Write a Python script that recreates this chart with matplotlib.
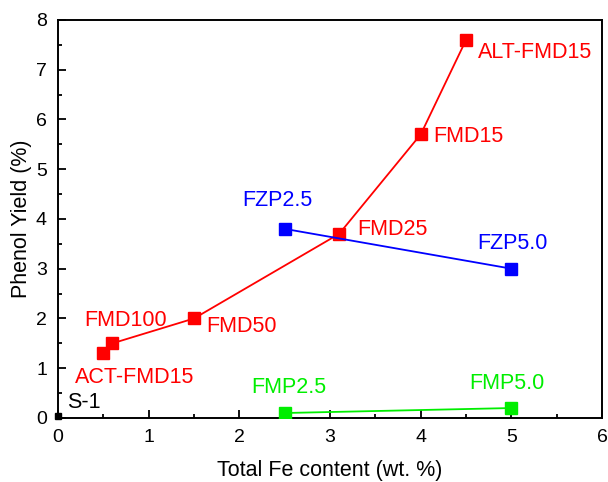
import matplotlib
matplotlib.use("Agg")
import matplotlib.pyplot as plt
from matplotlib.ticker import MultipleLocator

plt.rcParams['font.family'] = ['Liberation Sans', 'DejaVu Sans']

fmd_x = [0.5, 0.6, 1.5, 3.1, 4.0, 4.5]
fmd_y = [1.3, 1.5, 2.0, 3.7, 5.7, 7.6]
fmd_labels = ["ACT-FMD15", "FMD100", "FMD50", "FMD25", "FMD15", "ALT-FMD15"]
fzp_x = [2.5, 5.0]
fzp_y = [3.8, 3.0]
fzp_labels = ["FZP2.5", "FZP5.0"]
fmp_x = [2.5, 5.0]
fmp_y = [0.1, 0.2]
fmp_labels = ["FMP2.5", "FMP5.0"]
s1_x = [0.0]
s1_y = [0.05]
s1_labels = ["S-1"]

fig = plt.figure(figsize=(6.08, 4.82), dpi=100)
ax = fig.add_axes([0.0954, 0.1328, 0.895, 0.826])

red, blue, green = '#FF0000', '#0000FF', '#00EE00'
ax.plot(fmd_x, fmd_y, '-s', color=red, ms=8, lw=1.3, zorder=3)
ax.plot(fzp_x, fzp_y, '-s', color=blue, ms=8, lw=1.3, zorder=3)
ax.plot(fmp_x, fmp_y, '-s', color=green, ms=8, lw=1.3, zorder=3)
ax.plot(s1_x, s1_y, 's', color='black', ms=5, zorder=4, clip_on=False)

fs = 15.5
label_pos = {
    "ACT-FMD15": (0.19, 0.82), "FMD100": (0.29, 1.95), "FMD50": (1.63, 1.83),
    "FMD25": (3.30, 3.78), "FMD15": (4.14, 5.65), "ALT-FMD15": (4.63, 7.34),
    "FZP2.5": (2.03, 4.38), "FZP5.0": (4.62, 3.50),
    "FMP2.5": (2.13, 0.62), "FMP5.0": (4.53, 0.70), "S-1": (0.10, 0.32),
}
for labels, c in [(fmd_labels, red), (fzp_labels, blue), (fmp_labels, green), (s1_labels, 'black')]:
    for lab in labels:
        x, y = label_pos[lab]
        ax.text(x, y, lab, color=c, fontsize=fs, ha='left', va='center')

ax.set_xlim(0, 6)
ax.set_ylim(0, 8)
ax.xaxis.set_major_locator(MultipleLocator(1))
ax.xaxis.set_minor_locator(MultipleLocator(0.5))
ax.yaxis.set_major_locator(MultipleLocator(1))
ax.yaxis.set_minor_locator(MultipleLocator(0.5))
ax.tick_params(which='both', direction='in', top=False, right=False, labelsize=14, width=1.3)
ax.tick_params(axis='x', which='major', pad=8)
ax.tick_params(axis='y', which='major', pad=8)
ax.tick_params(which='major', length=6)
ax.tick_params(which='minor', length=3)
for s in ax.spines.values():
    s.set_linewidth(1.4)
ax.set_xlabel('Total Fe content (wt. %)', fontsize=15.5, labelpad=10)
ax.set_ylabel('Phenol Yield (%)', fontsize=15.5, labelpad=3)

fig.savefig('out.png', dpi=100)
